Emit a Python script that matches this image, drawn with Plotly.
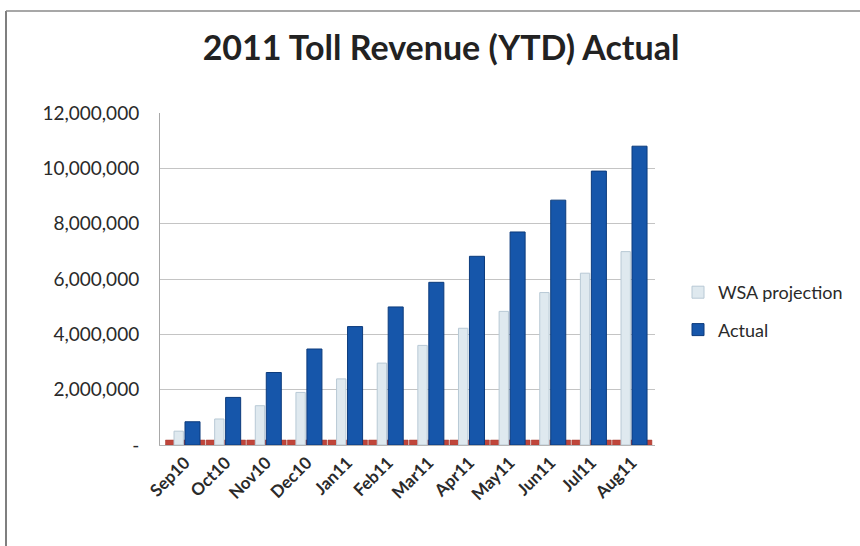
import plotly.graph_objects as go

months = ["Sep10", "Oct10", "Nov10", "Dec10", "Jan11", "Feb11",
          "Mar11", "Apr11", "May11", "Jun11", "Jul11", "Aug11"]
wsa_projection = [500000, 940000, 1420000, 1900000, 2390000, 2960000,
                  3600000, 4220000, 4830000, 5510000, 6210000, 6990000]
actual = [840000, 1720000, 2620000, 3470000, 4280000, 4990000,
          5880000, 6820000, 7700000, 8850000, 9900000, 10800000]
floor_values = [180000, 180000, 180000, 180000, 180000, 180000,
                180000, 180000, 180000, 180000, 180000, 180000]

y_ticks = [0, 2000000, 4000000, 6000000, 8000000, 10000000, 12000000]
y_tick_text = ["-", "2,000,000", "4,000,000", "6,000,000",
               "8,000,000", "10,000,000", "12,000,000"]

pos = list(range(len(months)))

fig = go.Figure()

# low red series sitting on the floor, behind the columns
fig.add_trace(go.Bar(
    x=pos, y=floor_values, name="floor", showlegend=False,
    offset=-0.48, width=0.97,
    marker=dict(color="#c0453a", line=dict(color="#a33a30", width=0.5)),
    hoverinfo="skip",
))
fig.add_trace(go.Bar(
    x=pos, y=wsa_projection, name="WSA projection", legendgroup="a",
    offset=-0.27, width=0.23,
    marker=dict(color="#dfe9ef", line=dict(color="#b8c9d5", width=1)),
))
fig.add_trace(go.Bar(
    x=pos, y=actual, name="Actual", legendgroup="b",
    offset=0.0, width=0.37,
    marker=dict(color="#1656aa", line=dict(color="#0c3b7c", width=1)),
))

# chart frame (left and top edges)
plot_l, plot_r, plot_t, plot_b = 160, 655, 113, 445
pw, ph = plot_r - plot_l, plot_b - plot_t
def px(x):
    return (x - plot_l) / pw
def py(y):
    return (plot_b - y) / ph

fig.add_shape(type="line", xref="paper", yref="paper",
              x0=px(6), x1=px(6), y0=py(11), y1=py(546),
              line=dict(color="#555555", width=1.5))
fig.add_shape(type="line", xref="paper", yref="paper",
              x0=px(6), x1=px(860), y0=py(11), y1=py(11),
              line=dict(color="#8a8a8a", width=1.5))

fig.update_layout(
    width=860, height=546,
    margin=dict(l=plot_l, r=860 - plot_r, t=plot_t, b=546 - plot_b,
                autoexpand=False),
    paper_bgcolor="white", plot_bgcolor="white",
    barmode="overlay",
    font=dict(family="Lato", color="#2a2a2a"),
    title=dict(text="<b>2011 Toll Revenue (YTD) Actual</b>",
               x=441 / 860, xref="container", xanchor="center",
               y=1 - 48 / 546, yref="container", yanchor="middle",
               font=dict(family="Lato", size=34, color="#222222")),
    legend=dict(x=px(678), y=py(274), xanchor="left", yanchor="top",
                traceorder="grouped", tracegroupgap=11,
                font=dict(family="Lato", size=18, color="#2a2a2a"),
                bgcolor="rgba(0,0,0,0)"),
    showlegend=True,
)

fig.update_xaxes(
    range=[-0.615, 11.566],
    tickmode="array", tickvals=pos, ticktext=months,
    tickangle=-45,
    tickfont=dict(family="Lato", size=17, color="#2a2a2a", weight="bold"),
    showgrid=False, zeroline=False,
    showline=True, linecolor="#b5b5b5", linewidth=1,
    ticks="", fixedrange=True,
)
fig.update_yaxes(
    range=[0, 12000000],
    tickmode="array", tickvals=y_ticks, ticktext=y_tick_text,
    tickfont=dict(family="Lato", size=19, color="#2a2a2a"),
    ticklabelstandoff=16,
    showgrid=True, gridcolor="#c4c4c4", gridwidth=1,
    zeroline=False,
    showline=True, linecolor="#a8a8a8", linewidth=1,
    ticks="", fixedrange=True,
)

fig.write_html("out.html")
